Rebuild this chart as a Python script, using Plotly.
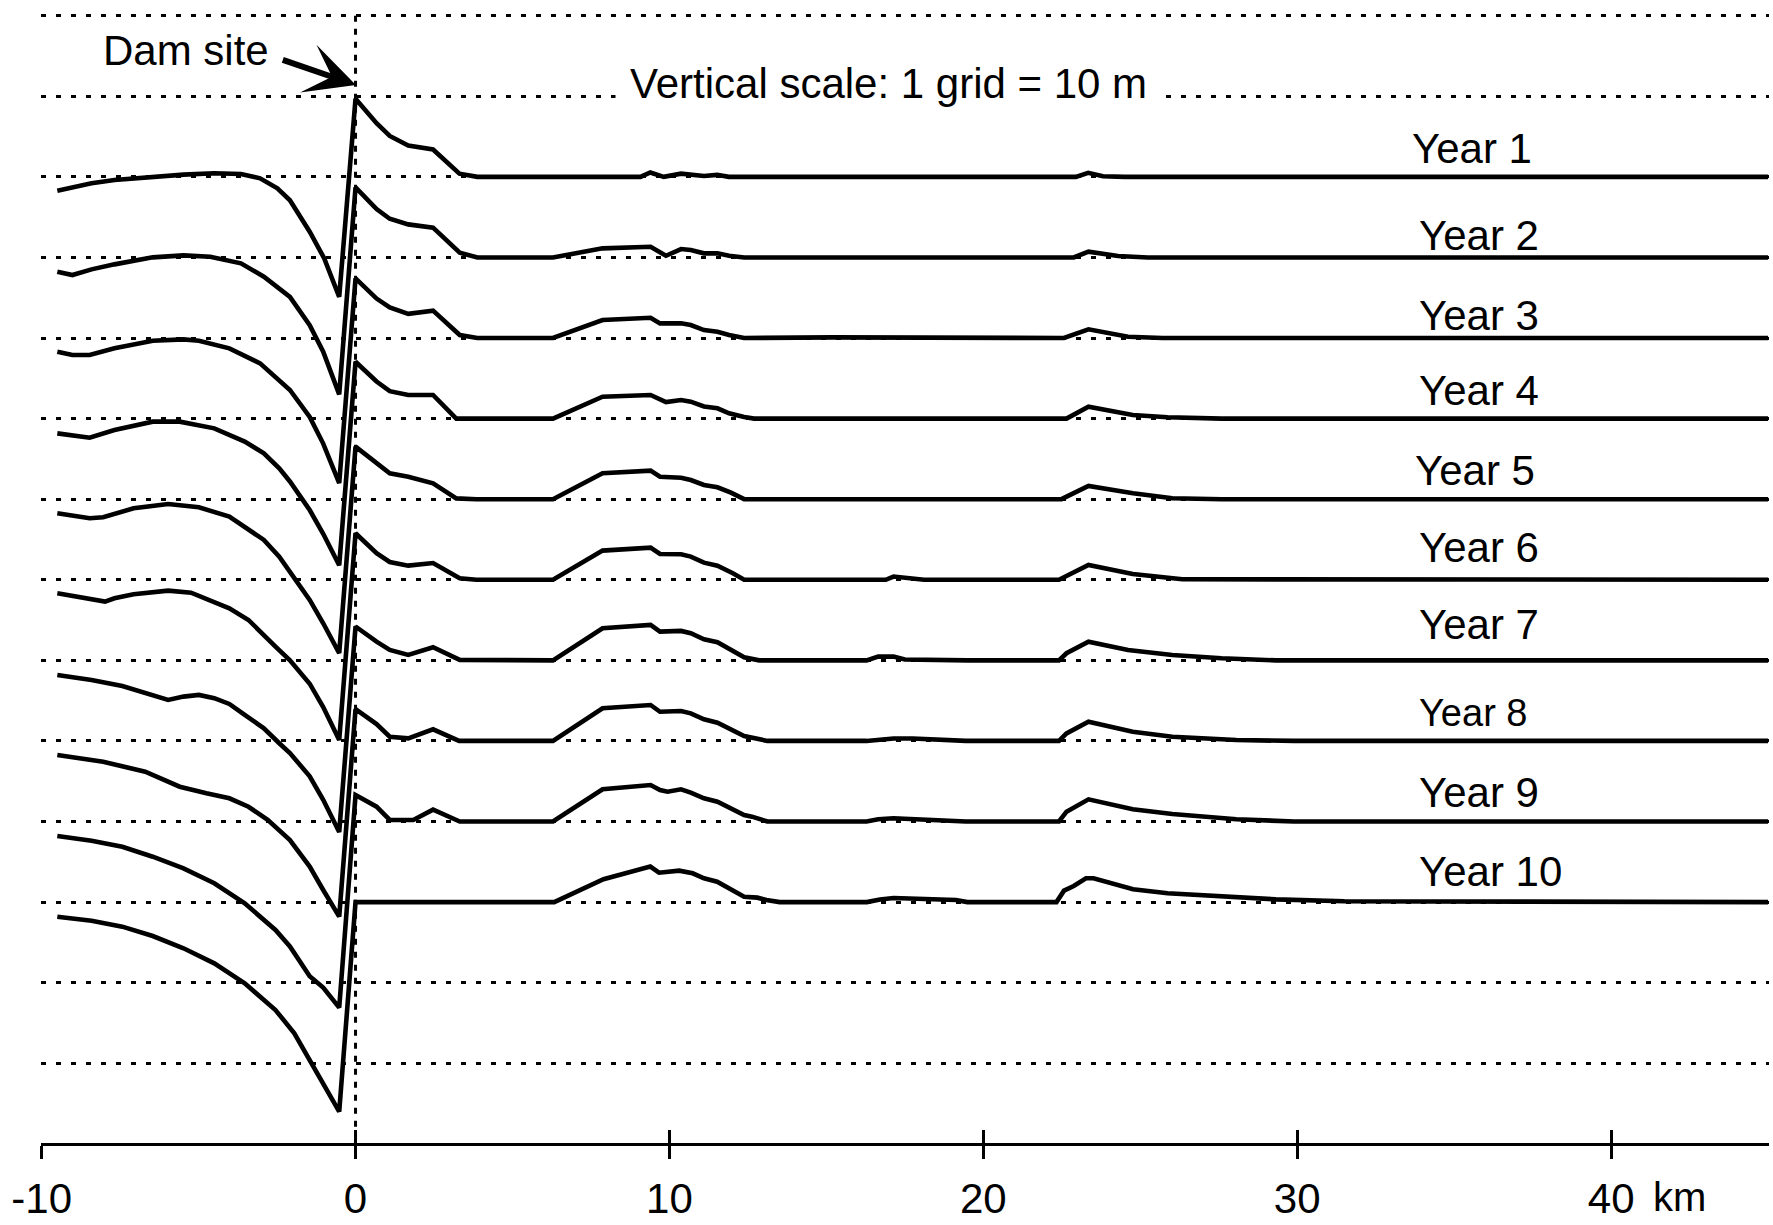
import plotly.graph_objects as go

# ---------------- data (km from dam, bed change in m relative to each year's grid line) -------------
YEARS = ["Year 1", "Year 2", "Year 3", "Year 4", "Year 5",
         "Year 6", "Year 7", "Year 8", "Year 9", "Year 10"]

Y1_KM = [-9.50, -8.41, -7.68, -6.46, -5.48, -4.50, -3.65, -3.04, -2.49, -2.09, -1.46, -1.00, -0.52,
         0.0, 0.67, 1.09, 1.68, 2.47, 3.31, 3.88, 9.08, 9.39, 9.82, 10.37, 10.67, 11.10, 11.52, 11.89,
         22.95, 23.34, 23.81, 24.50, 45.0]
Y1_DZ = [-1.71, -0.80, -0.38, 0.03, 0.28, 0.45, 0.36, -0.18, -1.42, -2.9, -6.8, -10.1, -14.9,
         9.7, 6.65, 5.08, 3.9, 3.4, 0.4, 0.0, 0.0, 0.54, 0.0, 0.4, 0.33, 0.1, 0.25, 0.0,
         0.0, 0.5, 0.08, 0.0, 0.0]

Y2_KM = [-9.50, -9.02, -8.41, -7.68, -6.46, -5.48, -4.63, -3.65, -2.92, -2.31, -2.09, -1.46, -1.03, -0.52,
         0.0, 0.67, 1.09, 1.68, 2.47, 3.32, 3.88, 6.29, 7.87, 9.40, 9.89, 10.37, 10.68, 11.10, 11.53,
         11.90, 12.38, 22.88, 23.35, 24.29, 25.24, 45.0]
Y2_DZ = [-1.77, -2.18, -1.48, -0.86, 0.01, 0.26, 0.09, -0.73, -2.39, -4.2, -4.9, -8.4, -11.7, -17.0,
         8.7, 6.0, 4.8, 4.1, 3.7, 0.6, 0.0, 0.0, 1.13, 1.33, 0.21, 1.04, 0.92, 0.51, 0.51,
         0.21, 0.0, 0.0, 0.71, 0.17, 0.0, 0.0]

Y3_KM = [-9.50, -9.02, -8.47, -7.68, -6.46, -5.48, -4.99, -4.02, -3.04, -2.43, -2.09, -1.46, -1.03, -0.52,
         0.0, 0.67, 1.09, 1.68, 2.47, 3.32, 3.88, 6.29, 7.87, 9.40, 9.70, 10.37, 10.68, 11.10, 11.53,
         11.90, 12.38, 15.2, 17.1, 22.57, 23.35, 24.61, 25.71, 45.0]
Y3_DZ = [-1.70, -2.11, -2.11, -1.28, -0.33, -0.17, -0.33, -1.28, -3.14, -5.21, -6.45, -9.8, -13.1, -18.0,
         7.4, 4.9, 3.8, 3.0, 3.4, 0.37, 0.0, 0.0, 2.23, 2.52, 1.82, 1.82, 1.61, 0.99, 0.78,
         0.37, 0.0, 0.08, 0.08, 0.0, 1.08, 0.16, 0.0, 0.0]

Y4_KM = [-9.50, -8.47, -7.68, -6.46, -5.60, -4.50, -3.53, -2.92, -2.43, -2.09, -1.46, -1.03, -0.52,
         0.0, 0.67, 1.09, 1.68, 2.47, 3.21, 6.29, 7.87, 9.40, 9.89, 10.37, 10.68, 11.10, 11.53, 11.90,
         12.38, 12.70, 22.65, 23.35, 24.76, 25.87, 27.59, 45.0]
Y4_DZ = [-1.83, -2.37, -1.42, -0.38, -0.38, -1.21, -2.86, -4.31, -6.17, -7.8, -11.35, -14.3, -18.2,
         7.06, 4.6, 3.4, 2.93, 2.93, 0.0, 0.0, 2.72, 2.93, 2.05, 2.30, 2.1, 1.5, 1.28, 0.66,
         0.2, 0.0, 0.0, 1.48, 0.45, 0.16, 0.0, 0.0]

Y5_KM = [-9.50, -8.47, -8.04, -7.07, -5.97, -4.99, -4.02, -2.92, -2.43, -2.09, -1.46, -1.03, -0.52,
         0.0, 0.67, 1.09, 1.68, 2.47, 3.21, 3.85, 6.29, 7.87, 9.40, 9.70, 10.37, 10.68, 11.10, 11.53,
         11.96, 12.38, 22.49, 23.35, 24.77, 26.02, 27.6, 45.0]
Y5_DZ = [-1.75, -2.37, -2.25, -1.13, -0.60, -1.01, -2.17, -5.06, -7.14, -9.0, -12.5, -15.4, -19.1,
         6.52, 4.45, 3.21, 2.79, 1.97, 0.1, 0.0, 0.0, 3.21, 3.54, 2.79, 2.67, 2.38, 1.76, 1.47,
         0.81, 0.0, 0.0, 1.64, 0.73, 0.11, 0.0, 0.0]

Y6_KM = [-9.50, -7.98, -7.68, -7.07, -5.97, -5.24, -4.02, -3.41, -2.55, -2.09, -1.46, -1.03, -0.52,
         0.0, 0.67, 1.09, 1.68, 2.47, 3.32, 3.85, 6.29, 7.87, 9.40, 9.70, 10.37, 10.68, 11.10, 11.53,
         12.02, 12.38, 16.89, 17.14, 18.11, 19.33, 19.6, 22.41, 23.35, 24.76, 26.34, 45.0]
Y6_DZ = [-1.68, -2.71, -2.30, -1.80, -1.35, -1.60, -3.54, -4.99, -8.30, -10.0, -12.9, -15.8, -19.9,
         5.77, 3.29, 2.2, 1.75, 2.08, 0.19, 0.0, 0.0, 3.62, 3.99, 3.20, 3.16, 2.87, 2.12, 1.75,
         0.81, 0.0, 0.0, 0.4, 0.0, 0.1, 0.0, 0.0, 1.84, 0.72, 0.06, 0.0]

Y7_KM = [-9.50, -8.41, -7.43, -5.97, -5.48, -4.99, -4.50, -4.02, -3.53, -2.92, -2.43, -2.09, -1.46, -1.03, -0.52,
         0.0, 0.67, 1.09, 1.68, 2.47, 3.32, 6.29, 7.87, 9.40, 9.70, 10.37, 10.68, 11.10, 11.53, 11.96,
         12.38, 12.86, 16.28, 16.65, 17.14, 17.5, 19.21, 19.5, 22.41, 22.65, 23.35, 24.61, 26.02, 27.59,
         29.32, 45.0]
Y7_DZ = [-1.81, -2.43, -3.18, -4.91, -4.50, -4.29, -4.70, -5.41, -6.78, -8.43, -10.29, -11.5, -14.4, -17.3, -21.3,
         4.2, 2.32, 1.29, 0.67, 1.63, 0.05, 0.0, 3.98, 4.39, 3.56, 3.65, 3.36, 2.62, 2.25, 1.38,
         0.38, 0.0, 0.0, 0.46, 0.46, 0.1, 0.12, 0.0, 0.0, 0.88, 2.32, 1.29, 0.67, 0.26,
         0.0, 0.0]

Y8_KM = [-9.50, -8.04, -6.70, -5.60, -4.75, -4.02, -3.41, -2.80, -2.09, -1.46, -1.03, -0.52,
         0.0, 0.67, 1.09, 1.68, 2.47, 3.30, 6.29, 7.87, 9.40, 9.70, 10.37, 10.68, 11.10, 11.53, 12.38,
         12.63, 13.12, 16.28, 16.65, 17.14, 17.75, 19.21, 19.44, 22.41, 22.65, 23.35, 24.76, 26.02,
         28.06, 29.9, 45.0]
Y8_DZ = [-1.75, -2.58, -3.82, -5.68, -6.50, -7.12, -8.17, -9.8, -12.3, -15.6, -18.5, -21.8,
         3.95, 2.1, 0.52, 0.32, 1.44, 0.0, 0.0, 4.05, 4.46, 3.62, 3.71, 3.42, 2.68, 2.26, 0.61,
         0.45, 0.0, 0.0, 0.16, 0.3, 0.3, 0.16, 0.0, 0.0, 0.94, 2.38, 1.14, 0.52,
         0.11, 0.0, 0.0]

Y9_KM = [-9.50, -8.41, -7.43, -6.46, -5.48, -4.50, -3.53, -2.55, -2.09, -1.46, -1.03, -0.52,
         0.0, 0.67, 1.09, 1.84, 2.47, 3.32, 6.29, 7.87, 9.40, 9.70, 9.94, 10.37, 10.68, 11.10, 11.53,
         12.38, 12.63, 13.12, 16.28, 16.65, 17.14, 19.21, 19.44, 22.41, 22.65, 23.35, 24.76, 26.02,
         28.06, 29.9, 45.0]
Y9_DZ = [-1.80, -2.38, -3.13, -4.37, -5.81, -7.67, -10.15, -13.46, -15.5, -19.2, -20.6, -23.1,
         3.29, 1.84, 0.19, 0.19, 1.47, 0.0, 0.0, 4.0, 4.53, 3.91, 3.7, 4.0, 3.58, 2.88, 2.46,
         0.81, 0.6, 0.0, 0.0, 0.28, 0.4, 0.15, 0.0, 0.0, 1.22, 2.75, 1.51, 0.93,
         0.27, 0.0, 0.0]

Y10_KM = [-9.50, -8.41, -7.43, -6.46, -5.48, -4.50, -3.53, -2.55, -1.95, -1.46, -0.97, -0.52,
          0.0, 6.33, 7.90, 9.39, 9.67, 10.31, 10.74, 11.10, 11.52, 12.02, 12.38, 12.80, 13.09, 13.51,
          16.29, 16.71, 17.14, 19.13, 19.49, 22.33, 22.57, 22.88, 23.27, 23.51, 24.77, 25.87, 27.59,
          29.32, 31.5, 45.0]
Y10_DZ = [-1.81, -2.31, -3.05, -4.21, -5.73, -7.60, -10.08, -13.39, -16.28, -19.60, -22.91, -26.0,
          0.0, 0.0, 2.83, 4.40, 3.65, 3.90, 3.57, 2.95, 2.53, 1.50, 0.67, 0.55, 0.26, 0.0,
          0.0, 0.33, 0.5, 0.25, 0.0, 0.0, 1.42, 2.0, 2.95, 2.95, 1.59, 1.09, 0.67,
          0.34, 0.1, 0.0]

PROFILE_KM = [Y1_KM, Y2_KM, Y3_KM, Y4_KM, Y5_KM, Y6_KM, Y7_KM, Y8_KM, Y9_KM, Y10_KM]
PROFILE_DZ = [Y1_DZ, Y2_DZ, Y3_DZ, Y4_DZ, Y5_DZ, Y6_DZ, Y7_DZ, Y8_DZ, Y9_DZ, Y10_DZ]

X_TICKS = [-10, 0, 10, 20, 30, 40]
X_TICK_TEXT = ["-10", "0", "10", "20", "30", "40"]
GRID_M = 10          # vertical scale: 1 grid = 10 m
N_GRID = 14
FIRST_YEAR_GRID = 2  # Year 1 sits on the third grid line
DAM_KM = 0

# ---------------- layout geometry / styles ----------------
W, H = 1773, 1225
ML, MR, MT, MB = 41, 4, 0, 82
PX_PER_KM = 31.39
PX_PER_M = 8.058
GRID0_PX = 15.7
X0 = -10.02
PLOT_W = W - ML - MR
PLOT_H = H - MT - MB
X_RANGE = [X0, X0 + PLOT_W / PX_PER_KM]
Y_RANGE = [-(PLOT_H - GRID0_PX) / PX_PER_M, GRID0_PX / PX_PER_M]
FONT = "Liberation Sans, Arial, Helvetica, sans-serif"
DOT = "5px,10px"


def px2x(px):
    return X0 + (px - ML) / PX_PER_KM


def px2y(py):
    return -(py - MT - GRID0_PX) / PX_PER_M


def px2paper_y(py):
    return (MT + PLOT_H - py) / PLOT_H


fig = go.Figure()

for i, (km, dz) in enumerate(zip(PROFILE_KM, PROFILE_DZ)):
    base = -GRID_M * (i + FIRST_YEAR_GRID)
    fig.add_trace(go.Scatter(
        x=km, y=[base + d for d in dz], mode="lines",
        line=dict(color="black", width=4.6), name=YEARS[i],
        hoverinfo="skip", showlegend=False))

# dummy trace so the second (inside-tick) axis is drawn
fig.add_trace(go.Scatter(x=[X_TICKS[0]], y=[None], xaxis="x2", mode="lines",
                         showlegend=False, hoverinfo="skip"))

# dam site vertical dotted line
fig.add_shape(type="line", x0=DAM_KM, x1=DAM_KM, y0=0, y1=Y_RANGE[0],
              xref="x", yref="y", layer="below",
              line=dict(color="black", width=3, dash="6px,7px"))

# ---------------- annotations ----------------
LABEL_PX = [(1472, 148.3), (1478.5, 235), (1478.5, 315), (1478.5, 390), (1474.8, 470.8),
            (1478.5, 547.3), (1478.5, 624), (1472.8, 713.3), (1478.5, 792.3), (1490, 871.7)]
LABEL_SIZE = [42, 42, 42, 42, 42, 42, 42, 38, 42, 42]
for name, (lx, ly), fs in zip(YEARS, LABEL_PX, LABEL_SIZE):
    fig.add_annotation(x=px2x(lx), y=px2y(ly), text=name, showarrow=False,
                       xanchor="center", yanchor="middle",
                       font=dict(family=FONT, size=fs, color="black"))

fig.add_annotation(x=px2x(888), y=px2y(83.3), text="Vertical scale: 1 grid = 10 m",
                   showarrow=False, xanchor="center", yanchor="middle",
                   bgcolor="white", borderpad=14,
                   font=dict(family=FONT, size=42, color="black"))

fig.add_annotation(x=px2x(185.6), y=px2y(50), text="Dam site", showarrow=False,
                   xanchor="center", yanchor="middle",
                   font=dict(family=FONT, size=42, color="black"))

fig.add_annotation(x=px2x(355.9), y=px2y(85), text="", showarrow=True,
                   ax=281.3 - 355.9, ay=59.3 - 85, axref="pixel", ayref="pixel",
                   arrowhead=3, arrowsize=1.4, arrowwidth=6, arrowcolor="black",
                   standoff=0, startstandoff=0)

fig.add_annotation(x=px2x(1679), y=px2paper_y(1197), yref="paper", text="km",
                   showarrow=False, xanchor="center", yanchor="middle",
                   font=dict(family=FONT, size=40, color="black"))

fig.update_layout(
    width=W, height=H,
    margin=dict(l=ML, r=MR, t=MT, b=MB, pad=0, autoexpand=False),
    paper_bgcolor="white", plot_bgcolor="white",
    showlegend=False,
    xaxis=dict(range=X_RANGE, tickvals=X_TICKS, ticktext=X_TICK_TEXT,
               showline=True, linecolor="black", linewidth=2.5,
               ticks="outside", ticklen=13, tickwidth=2.5, tickcolor="black",
               ticklabelstandoff=4, automargin=False,
               tickfont=dict(family=FONT, size=42, color="black"),
               showgrid=False, zeroline=False, fixedrange=True),
    xaxis2=dict(overlaying="x", matches="x", anchor="y", side="bottom",
                tickvals=X_TICKS, ticks="inside", ticklen=13, tickwidth=2.5,
                tickcolor="black", showticklabels=False, showline=False,
                automargin=False,
                showgrid=False, zeroline=False, fixedrange=True),
    yaxis=dict(range=Y_RANGE, tickvals=[-GRID_M * k for k in range(N_GRID)],
               showticklabels=False, ticks="", showgrid=True, gridcolor="black",
               gridwidth=3.2, griddash=DOT, zeroline=False, showline=False,
               automargin=False, fixedrange=True),
)

fig.write_html("out.html")
